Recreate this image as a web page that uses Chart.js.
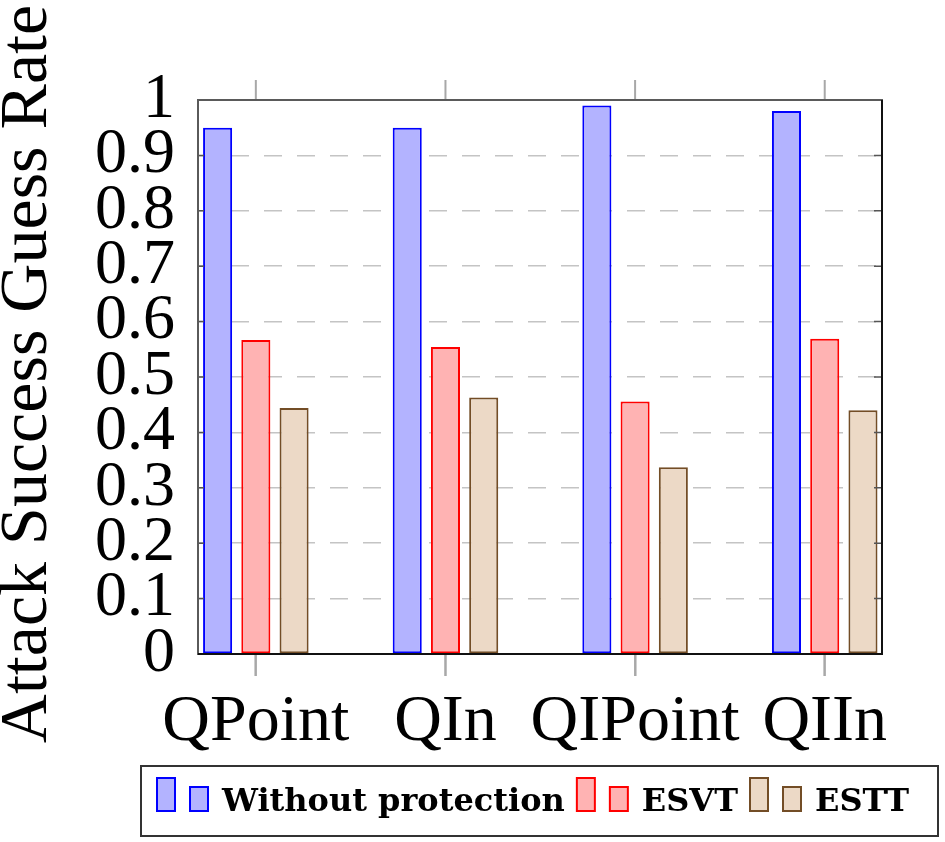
<!DOCTYPE html>
<html>
<head>
<meta charset="utf-8">
<script src="https://cdn.jsdelivr.net/npm/chart.js@4/dist/chart.umd.min.js"></script>
<style>
  html, body { margin: 0; padding: 0; background: #ffffff; }
  #wrap { width: 945px; height: 842px; position: relative; }
</style>
</head>
<body>
<div id="wrap"><canvas id="c" width="945" height="842"></canvas></div>
<script>
// ---- data ----
const categories = ['QPoint', 'QIn', 'QIPoint', 'QIIn'];
const seriesNames = ['Without protection', 'ESVT', 'ESTT'];
const withoutProtection = [0.950, 0.950, 0.990, 0.980];
const esvt = [0.567, 0.554, 0.456, 0.569];
const estt = [0.444, 0.463, 0.337, 0.440];
const yTickValues = [0, 0.1, 0.2, 0.3, 0.4, 0.5, 0.6, 0.7, 0.8, 0.9, 1];
const yTitle = 'Attack Success Guess Rate';

const seriesValues = [withoutProtection, esvt, estt];
const fills = ['#b3b3ff', '#ffb3b3', '#ecd9c6'];
const strokes = ['#0000ff', '#ff0000', '#734d26'];

const serif = '"Liberation Serif", "Times New Roman", serif';

const datasets = seriesNames.map((name, k) => ({
  label: name,
  data: seriesValues[k].map((v, i) => ({ x: i, y: v })),
  backgroundColor: fills[k],
  borderColor: strokes[k],
  borderWidth: 2,
  borderSkipped: false,
  categoryPercentage: 0.605,
  barPercentage: 0.76
}));

const decor = {
  id: 'decor',
  afterDraw(chart) {
    const ctx = chart.ctx;
    const ca = chart.chartArea;
    const xs = chart.scales.x;
    const ys = chart.scales.y;
    ctx.save();
    // x tick marks outside, top and bottom
    ctx.strokeStyle = '#a8a8a8';
    ctx.lineWidth = 2;
    xs.ticks.forEach(t => {
      const px = xs.getPixelForValue(t.value);
      ctx.beginPath();
      ctx.moveTo(px, ca.top);
      ctx.lineTo(px, ca.top - 20);
      ctx.moveTo(px, ca.bottom);
      ctx.lineTo(px, ca.bottom + 22);
      ctx.stroke();
    });
    // inner y tick marks
    ctx.strokeStyle = '#555';
    ctx.lineWidth = 1.5;
    ys.ticks.forEach(t => {
      const py = ys.getPixelForValue(t.value);
      ctx.beginPath();
      ctx.moveTo(ca.left, py); ctx.lineTo(ca.left + 6, py);
      ctx.moveTo(ca.right, py); ctx.lineTo(ca.right - 8, py);
      ctx.stroke();
    });
    // frame
    ctx.strokeStyle = '#5a5a5a';
    ctx.lineWidth = 2;
    ctx.strokeRect(ca.left, ca.top, ca.right - ca.left, ca.bottom - ca.top);
    ctx.strokeStyle = '#111';
    ctx.beginPath();
    ctx.moveTo(ca.right, ca.top); ctx.lineTo(ca.right, ca.bottom); ctx.lineTo(ca.left, ca.bottom);
    ctx.stroke();

    // y axis title
    ctx.save();
    ctx.translate(28, (ca.top + ca.bottom) / 2 - 3);
    ctx.rotate(-Math.PI / 2);
    ctx.font = '68px ' + serif;
    ctx.fillStyle = '#000';
    ctx.textAlign = 'center';
    ctx.textBaseline = 'middle';
    ctx.fillText(yTitle, 0, 0);
    ctx.restore();

    // legend
    const box = { left: 141, top: 766, right: 938, bottom: 836 };
    ctx.fillStyle = '#fff';
    ctx.fillRect(box.left, box.top, box.right - box.left, box.bottom - box.top);
    ctx.strokeStyle = '#333';
    ctx.lineWidth = 2;
    ctx.strokeRect(box.left, box.top, box.right - box.left, box.bottom - box.top);
    ctx.font = 'bold 32px "DejaVu Serif", serif';
    ctx.textBaseline = 'alphabetic';
    ctx.textAlign = 'left';
    let x = 157;
    const base = 811;
    chart.data.datasets.forEach(ds => {
      ctx.fillStyle = ds.backgroundColor;
      ctx.strokeStyle = ds.borderColor;
      ctx.lineWidth = 2;
      ctx.fillRect(x, base - 33, 18, 33);
      ctx.strokeRect(x, base - 33, 18, 33);
      ctx.fillRect(x + 33, base - 24, 18, 24);
      ctx.strokeRect(x + 33, base - 24, 18, 24);
      ctx.fillStyle = '#000';
      ctx.fillText(ds.label, x + 65, base);
      x += 65 + ctx.measureText(ds.label).width + 12;
    });
    ctx.restore();
  }
};

new Chart(document.getElementById('c'), {
  type: 'bar',
  data: { datasets },
  options: {
    responsive: false,
    animation: false,
    devicePixelRatio: 1,
    layout: { padding: { top: 100, right: 63, left: 0, bottom: 0 } },
    plugins: { legend: { display: false }, tooltip: { enabled: false } },
    scales: {
      x: {
        type: 'linear',
        offset: false,
        min: -0.305,
        max: 3.302,
        afterBuildTicks: s => { s.ticks = categories.map((_, i) => ({ value: i })); },
        afterFit: s => { s.height = 188; },
        ticks: {
          callback: (v, i) => categories[i],
          autoSkip: false,
          maxRotation: 0,
          minRotation: 0,
          padding: 7,
          color: '#000',
          font: { family: serif, size: 66 }
        },
        grid: {
          offset: false,
          drawOnChartArea: false,
          drawTicks: true,
          tickLength: 22,
          tickColor: '#a8a8a8',
          tickWidth: 2
        },
        border: { display: false }
      },
      y: {
        type: 'linear',
        min: 0,
        max: 1,
        afterBuildTicks: s => { s.ticks = yTickValues.map(v => ({ value: v })); },
        afterFit: s => { s.width = 198; },
        ticks: {
          callback: v => (v === 0 ? '0' : v === 1 ? '1' : v.toFixed(1)),
          autoSkip: false,
          padding: 23,
          color: '#000',
          font: { family: serif, size: 64 }
        },
        grid: {
          color: '#c4c4c4',
          lineWidth: 1.5,
          drawTicks: false
        },
        border: { display: false, dash: [18, 15] }
      }
    }
  },
  plugins: [decor]
});
</script>
</body>
</html>
